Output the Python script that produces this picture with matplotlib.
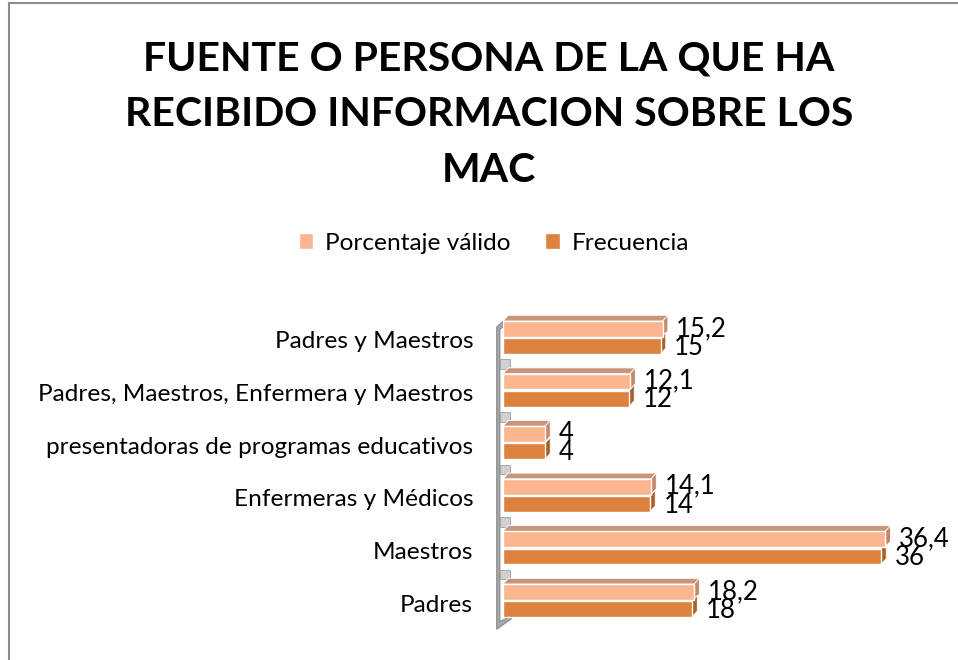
import matplotlib.pyplot as plt
import numpy as np
from matplotlib.patches import Polygon, Rectangle

plt.rcParams["font.family"] = ["Lato", "DejaVu Sans"]

# data, bottom category first (as drawn by the horizontal bar chart)
categories = ["Padres", "Maestros", "Enfermeras y Médicos",
              "presentadoras de programas educativos",
              "Padres, Maestros, Enfermera y Maestros", "Padres y Maestros"]
porcentaje = [18.2, 36.4, 14.1, 4, 12.1, 15.2]
frecuencia = [18, 36, 14, 4, 12, 15]
porcentaje_labels = ["18,2", "36,4", "14,1", "4", "12,1", "15,2"]
frecuencia_labels = ["18", "36", "14", "4", "12", "15"]

LIGHT = "#fbb58f"
DARK = "#dc823e"
LIGHT_SIDE = "#c48a68"
DARK_SIDE = "#a8602c"
TOP = "#c8957a"
DX, DY = 0.5, 0.11       # fake 3D depth (data units)
H = 0.30

fig = plt.figure(figsize=(9.58, 6.6), dpi=100)
fig.patches.append(Rectangle((9 / 958, -0.1), 1.2, 1 - 3 / 660 + 0.1,
                             transform=fig.transFigure, fill=False,
                             edgecolor="#8c8c8c", linewidth=1.5))

ax = fig.add_axes([503 / 958, 30.7 / 660, 420 / 958, 315.6 / 660])
y = np.arange(len(categories))

ax.barh(y + 0.06, porcentaje, height=H, align="edge", color=LIGHT,
        edgecolor="white", linewidth=1, zorder=3, label="Porcentaje válido")
ax.barh(y - 0.265, frecuencia, height=H, align="edge", color=DARK,
        edgecolor="white", linewidth=1, zorder=3, label="Frecuencia")

for i, (p, f) in enumerate(zip(porcentaje, frecuencia)):
    top = i + 0.06 + H
    # top face of the upper bar
    ax.add_patch(Polygon([(0, top), (p, top), (p + DX, top + DY), (DX, top + DY)],
                         closed=True, facecolor=TOP, edgecolor="white",
                         linewidth=0.6, zorder=2))
    # right side faces
    b = i + 0.06
    ax.add_patch(Polygon([(p, b), (p, b + H), (p + DX, b + H + DY), (p + DX, b + DY)],
                         closed=True, facecolor=LIGHT_SIDE, edgecolor="white",
                         linewidth=0.6, zorder=2))
    b = i - 0.265
    ax.add_patch(Polygon([(f, b), (f, b + H), (f + DX, b + H + DY), (f + DX, b + DY)],
                         closed=True, facecolor=DARK_SIDE, edgecolor="white",
                         linewidth=0.6, zorder=2))
    ax.text(p + 1.3, i + 0.22, porcentaje_labels[i], va="center", ha="left",
            fontsize=18.5, color="black", zorder=5)
    ax.text(f + 1.3, i - 0.14, frecuencia_labels[i], va="center", ha="left",
            fontsize=18.5, color="black", zorder=5)

# left wall of the 3D axis
wx = -0.6
ax.add_patch(Polygon([(wx, -0.5), (wx, 5.25), (wx + 1.2, 5.45), (wx + 1.2, 5.35),
                      (wx + 0.3, 5.2), (wx + 0.3, -0.35), (wx + 1.4, -0.25),
                      (wx + 1.4, -0.3)],
                     closed=True, facecolor="#a6a6a6", edgecolor="#8c8c8c",
                     linewidth=0.8, zorder=1, clip_on=False))
for i in range(len(categories) - 1):
    ax.add_patch(Rectangle((wx + 0.3, i + 0.45), 1.0, 0.18, facecolor="#d0d0d0",
                           edgecolor="#a0a0a0", linewidth=0.6, zorder=1,
                           clip_on=False))

ax.set_xlim(0, 40)
ax.set_ylim(-0.5, 5.5)
ax.set_yticks(y)
ax.set_yticklabels(categories, fontsize=17.6)
ax.tick_params(axis="y", length=0, pad=21.5)
ax.set_xticks([])
for s in ax.spines.values():
    s.set_visible(False)

fig.text(489 / 958, 1 - 115 / 660,
         "FUENTE O PERSONA DE LA QUE HA\nRECIBIDO INFORMACION SOBRE LOS\nMAC",
         ha="center", va="center", fontsize=29.5, fontweight="bold",
         linespacing=1.62)

fig.legend(loc="center", bbox_to_anchor=(494 / 958, 1 - 243 / 660), ncol=2,
           frameon=False, fontsize=17.6, handlelength=0.6, handleheight=0.6,
           handletextpad=0.5, columnspacing=1.4)

fig.savefig("out.png", dpi=100)
